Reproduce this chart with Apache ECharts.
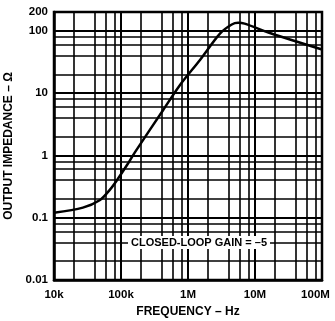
<!DOCTYPE html>
<html>
<head>
<meta charset="utf-8">
<script src="https://cdn.jsdelivr.net/npm/echarts@6/dist/echarts.min.js"></script>
<style>
html,body{margin:0;padding:0;background:#fff;}
#c{width:335px;height:321px;}
</style>
</head>
<body>
<div id="c"></div>
<script>
const frequencyHz = [10000, 27000, 48000, 68000, 87000, 123000, 162000, 424000, 760000, 1510000, 3000000, 4500000, 5600000, 7000000, 16700000, 100000000];
const impedanceOhm = [0.12, 0.145, 0.19, 0.28, 0.40, 0.70, 1.13, 5.3, 13.5, 34, 90, 126, 134, 130, 92, 50];
const xDecades = [10000, 100000, 1000000, 10000000];
const yDecades = [0.01, 0.1, 1, 10, 100];
const minorSteps = [2, 4, 6, 8];
const xTickText = {10000: '10k', 100000: '100k', 1000000: '1M', 10000000: '10M', 100000000: '100M'};
const annotation = 'CLOSED-LOOP GAIN = \u20135';
const xName = 'FREQUENCY \u2013 Hz';
const yName = 'OUTPUT IMPEDANCE \u2013 \u03A9';

const xMinor = [];
xDecades.forEach(d => minorSteps.forEach(m => xMinor.push({xAxis: d * m})));
const yMinor = [];
yDecades.forEach(d => minorSteps.forEach(m => { if (d * m < 200) yMinor.push({yAxis: d * m}); }));

const font = 'Liberation Sans, Arial, sans-serif';
const chart = echarts.init(document.getElementById('c'));
chart.setOption({
  animation: false,
  grid: {left: 54, right: 13, top: 12, bottom: 41, outerBoundsMode: 'none', containLabel: false,
    show: true, borderColor: '#000', borderWidth: 2.5, backgroundColor: 'transparent'},
  xAxis: {
    type: 'log', min: 10000, max: 100000000, logBase: 10,
    name: xName, nameLocation: 'middle', nameGap: 26,
    nameTextStyle: {fontFamily: font, fontWeight: 'bold', fontSize: 12, color: '#000'},
    axisLine: {lineStyle: {color: '#000', width: 2.5}},
    axisTick: {show: false},
    minorTick: {show: false},
    axisLabel: {fontFamily: font, fontWeight: 'bold', fontSize: 11.5, color: '#000', margin: 9,
      formatter: v => {
        const t = xTickText[Math.round(v)] || '';
        return Math.round(v) === 100000000 ? '{e|' + t + '}' : t;
      },
      rich: {e: {fontFamily: font, fontWeight: 'bold', fontSize: 11.5, color: '#000', padding: [0, 13, 0, 0]}}
    },
    splitLine: {show: true, lineStyle: {color: '#000', width: 2}}
  },
  yAxis: {
    type: 'log', min: 0.01, max: 200, logBase: 10,
    name: yName, nameLocation: 'middle', nameGap: 35,
    nameTextStyle: {fontFamily: font, fontWeight: 'bold', fontSize: 12, color: '#000'},
    axisLine: {lineStyle: {color: '#000', width: 2.5}},
    axisTick: {show: false},
    axisLabel: {fontFamily: font, fontWeight: 'bold', fontSize: 11.5, color: '#000', margin: 6, showMaxLabel: true,
      formatter: v => { const r = Number(v.toPrecision(3)); return String(r); }},
    splitLine: {show: true, lineStyle: {color: '#000', width: 2}}
  },
  series: [
    {
      type: 'line', data: [], silent: true,
      markLine: {silent: true, symbol: 'none', label: {show: false}, animation: false,
        lineStyle: {color: '#000', width: 1.6, type: 'solid'},
        data: xMinor.concat(yMinor)}
    },
    {
      type: 'line', smooth: 0.3, showSymbol: false, silent: true,
      data: frequencyHz.map((f, i) => [f, impedanceOhm[i]]),
      lineStyle: {color: '#000', width: 2.5}
    }
  ],
  graphic: [{
    type: 'text', left: 128, top: 236, z: 100,
    style: {text: annotation, fill: '#000', font: 'bold 11px ' + font, backgroundColor: '#fff', padding: [1, 3]}
  }]
});
</script>
</body>
</html>
